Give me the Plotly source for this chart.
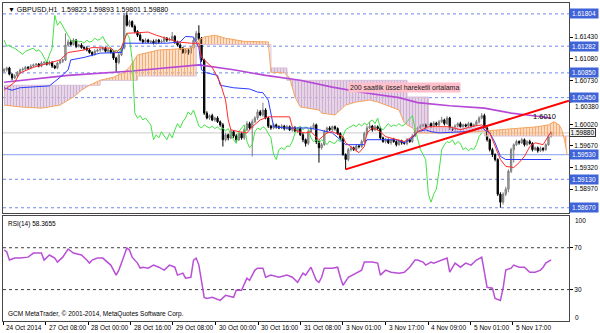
import plotly.graph_objects as go

# ---------------- data (hourly bars, GBPUSD H1) ----------------
close = [
1.6090,1.6093,1.6083,1.6077,1.6080,1.6086,1.6090,1.6091,1.6094,1.6093,
1.6096,1.6098,1.6099,1.6096,1.6101,1.6102,1.6099,1.6102,1.6096,1.6093,
1.6101,1.6104,1.6106,1.6130,1.6135,1.6131,1.6138,1.6128,1.6130,1.6126,
1.6125,1.6122,1.6118,1.6115,1.6120,1.6122,1.6123,1.6125,1.6120,1.6122,
1.6118,1.6109,1.6102,1.6114,1.6125,1.6178,1.6162,1.6168,1.6160,1.6152,
1.6146,1.6138,1.6135,1.6138,1.6135,1.6136,1.6133,1.6138,1.6135,1.6136,
1.6141,1.6138,1.6139,1.6144,1.6135,1.6130,1.6125,1.6118,1.6122,1.6117,
1.6125,1.6138,1.6149,1.6141,1.6106,1.6020,1.6012,1.6016,1.6009,1.6012,
1.6006,1.6001,1.5977,1.5985,1.5980,1.5990,1.5983,1.5977,1.5987,1.5980,
1.5993,1.6003,1.5996,1.6006,1.6012,1.6022,1.6017,1.6025,1.6012,1.5999,
1.5996,1.6001,1.5998,1.5996,1.5999,1.5995,1.5998,1.5993,1.5996,1.5991,
1.5995,1.5985,1.5977,1.5971,1.5990,1.5996,1.6001,1.5974,1.5964,1.5969,
1.5990,1.5996,1.5993,1.5998,1.5995,1.5987,1.5980,1.5953,1.5945,1.5961,
1.5964,1.5961,1.5967,1.5966,1.5974,1.5987,1.5996,1.5999,1.5993,1.5998,
1.5995,1.5980,1.5974,1.5977,1.5972,1.5977,1.5974,1.5969,1.5975,1.5972,
1.5971,1.5977,1.5974,1.5983,1.5993,1.5996,1.5999,1.6001,1.5998,1.6003,
1.5999,1.6004,1.6001,1.6006,1.6009,1.6003,1.6012,1.5996,1.5993,1.5999,
1.6003,1.5998,1.6001,1.5999,1.6003,1.5999,1.6001,1.6006,1.6012,1.6016,
1.5996,1.5977,1.5961,1.5953,1.5945,1.5889,1.5876,1.5889,1.5897,1.5926,
1.5961,1.5969,1.5974,1.5972,1.5977,1.5969,1.5974,1.5971,1.5961,1.5964,
1.5959,1.5963,1.5961,1.5969,1.59823,1.59880]
first_open = 1.6088
# wick lengths in pips above / below the candle body
upper_wick = [
3,2,2,1,3,2,2,3,2,2, 3,2,2,2,3,2,2,3,2,2, 2,3,2,19,4,3,3,2,2,3, 2,3,2,2,3,2,2,3,2,2,
2,2,2,3,3,4,5,3,2,3, 2,3,2,3,2,2,3,2,2,3, 3,2,3,7,2,2,3,2,3,2, 3,4,4,13,2,2,3,2,3,2,
3,2,3,3,2,4,2,3,3,2, 3,4,3,4,3,4,3,12,3,2, 2,3,2,2,3,2,3,2,2,3, 2,2,3,2,4,3,3,2,2,3,
3,2,3,2,2,2,2,2,2,3, 3,2,3,2,3,3,4,7,2,3, 2,3,2,3,2,2,3,2,2,2, 2,3,2,3,3,2,3,2,2,3,
2,3,2,3,5,2,3,2,2,3, 2,3,2,2,3,2,2,3,3,4, 3,2,2,3,2,2,3,3,4,3, 3,2,3,2,3,2,2,3,2,2,
2,3,2,2,3,1]
lower_wick = [
2,3,2,4,2,2,3,2,2,3, 2,2,3,2,2,3,2,2,3,2, 2,2,3,2,3,2,2,3,2,2, 3,2,2,3,2,2,3,2,2,3,
2,3,16,3,2,2,2,3,2,3, 3,2,3,2,2,3,2,2,3,2, 2,3,2,2,3,2,3,2,2,3, 2,2,2,3,3,3,2,3,2,3,
2,3,11,3,4,2,3,4,2,3, 3,2,3,46,2,3,2,3,2,3, 3,2,3,2,2,3,2,2,3,2, 3,2,4,5,3,2,2,4,24,3,
2,3,2,2,3,2,3,2,16,3, 3,2,3,3,2,2,3,2,3,2, 3,3,2,3,2,3,2,3,2,3, 2,3,2,2,2,3,2,2,3,2,
3,2,2,3,2,3,2,3,2,3, 2,2,3,2,2,3,2,2,3,2, 3,3,3,4,3,3,9,4,3,5, 3,21,2,3,2,3,2,2,3,2,
3,2,3,2,2,2]

tenkan_bars = [0,4,6,11,17,21,24,30,33,40,42,44,46,54,57,61,65,70,73,74,78,81,83,84,85,88,91,93,96,99,
               107,108,110,113,115,118,121,123,127,128,130,133,135,136,138,140,143,147,150,153,155,159,163,167,171,175,179,180,182,184,
               186,188,191,193,195,197,199,202,204,205]
tenkan_vals = [1.6057,1.6070,1.6085,1.6094,1.6101,1.6106,1.6118,1.6122,1.6126,1.6125,1.6118,1.6126,1.6149,1.6151,1.6146,1.6141,1.6135,1.6133,1.6133,1.6110,
               1.6094,1.6069,1.6041,1.6009,1.5993,1.5990,1.5988,1.5998,1.6009,1.6014,1.6014,1.5998,1.5990,1.5988,1.5990,1.5977,1.5988,1.5990,1.5982,1.5972,
               1.5966,1.5956,1.5966,1.5988,1.5996,1.5993,1.5982,1.5977,1.5974,1.5982,1.5990,1.5998,1.5998,1.5998,1.5993,1.5998,1.6001,1.5998,1.5988,1.5966,
               1.5945,1.5934,1.5932,1.5940,1.5950,1.5966,1.5972,1.5969,1.5982,1.5990]

kijun_bars = [0,3,6,11,17,21,24,25,30,36,41,44,45,48,61,66,68,71,73,74,76,80,81,86,92,95,97,99,100,101,
              105,114,118,123,126,128,135,136,147,150,153,155,158,160,163,173,176,179,180,182,184,186,188,205]
kijun_vals = [1.6061,1.6057,1.6061,1.6062,1.6064,1.6078,1.6090,1.6106,1.6110,1.6117,1.6118,1.6118,1.6133,1.6133,1.6133,1.6135,1.6144,1.6143,1.6126,1.6090,
              1.6085,1.6081,1.6065,1.6061,1.6059,1.6054,1.6053,1.6041,1.6020,1.5998,1.5996,1.5996,1.5993,1.5988,1.5977,1.5969,1.5969,1.5977,1.5977,1.5972,
              1.5980,1.5990,1.5993,1.5990,1.5988,1.5990,1.5993,1.5998,1.5993,1.5988,1.5972,1.5950,1.5945,1.5945]

spanA_bars = [0,6,14,21,24,26,29,32,36,41,45,47,50,53,58,70,73,75,79,83,90,99,100,105,107,109,111,118,119,124,
              126,128,132,137,140,145,148,150,153,155,166,177,180,185,192,200,204,206,208,209,210,211]
spanA_vals = [1.6033,1.6030,1.6028,1.6033,1.6041,1.6046,1.6057,1.6065,1.6073,1.6078,1.6086,1.6094,1.6114,1.6117,1.6122,1.6125,1.6138,1.6143,1.6146,1.6141,
              1.6136,1.6135,1.6086,1.6085,1.6077,1.6046,1.6030,1.6025,1.6020,1.6017,1.6025,1.6033,1.6038,1.6041,1.6038,1.6030,1.6025,1.6004,1.5996,1.5988,
              1.5988,1.5990,1.5991,1.5993,1.5996,1.5998,1.6001,1.6006,1.6001,1.5993,1.5977,1.5953]
spanB_bars = [0,36,50,72,100,106,151,159,180,212]
spanB_vals = [1.6065,1.6073,1.6080,1.6131,1.6093,1.6073,1.6046,1.5996,1.5983,1.5983]
# stretches of the cloud, and which line is on top there
cloud_regions = [(0, 32, "bear"), (32, 99, "bull"), (100, 105, "bear"), (105, 150, "bear"),
                 (150, 155, "bear"), (155, 180, "bear"), (180, 211, "bull")]

ma_bars = [0,24,48,62,73,86,98,111,123,135,148,155,167,180,190,196,205]
ma_vals = [1.6070,1.6081,1.6088,1.6093,1.6098,1.6090,1.6081,1.6073,1.6062,1.6053,1.6045,1.6037,1.6032,1.6028,1.6020,1.6017,1.6012]

chikou_shift = 26

trend_bars = [128, 211.7]
trend_vals = [1.5929, 1.6040]

rsi_bars = [0,1,2,4,6,9,11,14,15,17,19,20,22,24,26,29,31,32,33,35,37,40,42,43,44,46,47,48,50,51,
            52,54,56,58,60,62,64,65,67,68,70,71,72,73,75,76,78,81,83,86,87,89,91,92,94,95,97,98,100,103,
            106,108,110,112,113,115,117,118,119,120,123,125,126,127,129,132,134,135,138,140,141,143,145,148,150,152,154,155,157,158,
            160,161,164,166,167,169,171,173,175,177,179,181,183,184,186,187,188,190,191,193,195,197,199,201,202,203,205]
rsi_vals = [67.8,66.2,58.2,60.1,60.1,61.0,64.9,64.9,58.2,63.0,60.0,56.3,61.0,68.8,64.9,63.0,58.2,55.3,58.2,60.1,
            60.1,53.4,43.8,48.6,55.3,69.7,67.8,61.0,55.3,50.5,51.4,50.5,53.4,51.4,48.6,53.4,51.4,43.8,45.7,40.9,
            41.8,58.2,60.1,53.4,22.6,21.6,22.6,19.7,24.5,22.6,29.3,29.3,40.9,38.9,48.6,50.5,50.5,41.8,43.8,41.8,
            43.8,41.8,37.0,45.7,43.8,51.4,38.9,37.0,41.8,50.5,50.5,51.4,41.8,34.1,41.8,45.7,48.6,56.3,56.3,55.3,
            43.8,48.6,46.6,45.7,46.6,51.4,58.2,58.2,56.3,53.4,56.3,55.3,58.2,60.1,46.6,55.3,51.4,55.3,53.4,58.2,
            61.0,32.2,31.3,21.6,19.7,31.3,48.6,50.5,53.4,51.4,51.4,46.6,46.6,48.6,51.4,55.3,58.4]
rsi_levels = [70, 30]

tick_bars = [-0.4, 15.6, 31.5, 47.4, 63.3, 79.3, 95.2, 111.1, 127.0, 143.0, 158.9, 174.8, 190.7]
tick_text = ["24 Oct 2014", "27 Oct 08:00", "28 Oct 00:00", "28 Oct 16:00", "29 Oct 08:00", "30 Oct 00:00",
             "30 Oct 16:00", "31 Oct 08:00", "3 Nov 01:00", "3 Nov 17:00", "4 Nov 09:00", "5 Nov 01:00", "5 Nov 17:00"]
price_ticks = [1.61430, 1.61080, 1.60730, 1.60020, 1.59670, 1.59320, 1.58970]
hidden_tick = 1.60380   # scale label partly covered by the 1.60450 line label
dotted_levels = [1.61804, 1.61282, 1.60850, 1.60450, 1.59130, 1.58670]
support_level = 1.59530
bid_level = 1.59880
ma_label_bar, ma_label_price = 150, 1.6061
ma_label_text = "200 saatlik üssel hareketli ortalama"
note_bar, note_price, note_text = 202.5, 1.6014, "1.6010"
title_text = "▼ GBPUSD,H1  1.59823 1.59893 1.59801 1.59880"
rsi_title = "RSI(14) 58.3655"
copyright_text = "GCM MetaTrader, © 2001-2014, MetaQuotes Software Corp."

# ---------------- build ----------------
n = len(close)
bars = list(range(n))
opens = [first_open] + close[:-1]
highs = [max(o, c) + u * 0.0001 for o, c, u in zip(opens, close, upper_wick)]
lows = [min(o, c) - l * 0.0001 for o, c, l in zip(opens, close, lower_wick)]

FONT = "Liberation Sans, Arial, sans-serif"
fig = go.Figure()
shapes = []


def b_at(b):
    v = spanB_vals[0]
    for bb, vv in zip(spanB_bars, spanB_vals):
        if bb <= b:
            v = vv
    return v


def b_before(b):
    v = spanB_vals[0]
    for bb, vv in zip(spanB_bars, spanB_vals):
        if bb < b:
            v = vv
    return v


shape_fill = {"bull": "rgba(247,188,140,0.30)", "bear": "rgba(220,196,222,0.55)"}
hatch = {"bull": "#f5ad75", "bear": "#d0b0d2"}
for k, (b0, b1, kind) in enumerate(cloud_regions):
    ax = [b for b in spanA_bars if b0 <= b <= b1]
    ay = [v for b, v in zip(spanA_bars, spanA_vals) if b0 <= b <= b1]
    px, py = [b0], [b_at(b0)]
    for s in spanB_bars:
        if b0 < s < b1:
            px += [s, s]
            py += [b_before(s), b_at(s)]
    px.append(b1)
    py.append(b_before(b1) if b1 in spanB_bars else b_at(b1))
    poly_x = ax + px[::-1]
    poly_y = ay + py[::-1]
    # pale tint of the cloud drawn as a path shape under the traces
    path = "M " + " L ".join(f"{xx},{yy}" for xx, yy in zip(poly_x, poly_y)) + " Z"
    shapes.append(dict(type="path", path=path, xref="x", yref="y", fillcolor=shape_fill[kind],
                       line=dict(width=0), layer="below"))
    # vertical hatching on top
    fig.add_trace(go.Scatter(x=poly_x + [ax[0]], y=poly_y + [ay[0]], mode="lines", line=dict(width=0), fill="toself",
                             fillcolor="rgba(0,0,0,0)",
                             fillpattern=dict(shape="|", fgcolor=hatch[kind], bgcolor="rgba(255,255,255,0)",
                                              size=3, solidity=0.45 + 0.01 * k, fillmode="replace"),
                             showlegend=False, hoverinfo="skip"))

fig.add_trace(go.Scatter(x=spanB_bars, y=spanB_vals, mode="lines", line=dict(color="#d8bfd8", width=1, shape="hv"),
                         showlegend=False))
fig.add_trace(go.Scatter(x=spanA_bars, y=spanA_vals, mode="lines", line=dict(color="#f4a460", width=1),
                         showlegend=False))

fig.add_trace(go.Candlestick(x=bars, open=opens, high=highs, low=lows, close=close,
                             increasing=dict(line=dict(color="#7c7c7c", width=1), fillcolor="#b0b0b0"),
                             decreasing=dict(line=dict(color="#000000", width=1), fillcolor="#000000"),
                             whiskerwidth=0, showlegend=False))

fig.add_trace(go.Scatter(x=ma_bars, y=ma_vals, mode="lines", line=dict(color="#b548d6", width=1.6), showlegend=False))
fig.add_trace(go.Scatter(x=bars[:n - chikou_shift], y=close[chikou_shift:], mode="lines",
                         line=dict(color="#45e045", width=1), showlegend=False))
fig.add_trace(go.Scatter(x=kijun_bars, y=kijun_vals, mode="lines", line=dict(color="#2a3cff", width=1), showlegend=False))
fig.add_trace(go.Scatter(x=tenkan_bars, y=tenkan_vals, mode="lines", line=dict(color="#ff2a2a", width=1), showlegend=False))
fig.add_trace(go.Scatter(x=trend_bars, y=trend_vals, mode="lines", line=dict(color="#ff0000", width=2), showlegend=False))

fig.add_trace(go.Scatter(x=rsi_bars, y=rsi_vals, mode="lines", line=dict(color="#b94fd6", width=1.5),
                         xaxis="x2", yaxis="y2", showlegend=False))

for lv in dotted_levels:
    shapes.append(dict(type="line", xref="paper", x0=0, x1=1, yref="y", y0=lv, y1=lv,
                       line=dict(color="#7088e6", width=1, dash="dot"), layer="below"))
shapes.append(dict(type="line", xref="paper", x0=0, x1=1, yref="y", y0=support_level, y1=support_level,
                   line=dict(color="#9db2f3", width=1.2), layer="below"))
shapes.append(dict(type="line", xref="paper", x0=0, x1=1, yref="y", y0=bid_level, y1=bid_level,
                   line=dict(color="#c8c8c8", width=1), layer="below"))
for lv in rsi_levels:
    shapes.append(dict(type="line", xref="paper", x0=0, x1=1, yref="y2", y0=lv, y1=lv,
                       line=dict(color="#404040", width=1, dash="dot"), layer="below"))
shapes.append(dict(type="line", xref="paper", x0=1, x1=1.005, yref="y", y0=hidden_tick, y1=hidden_tick,
                   line=dict(color="#000000", width=1)))

ann = []
small = dict(family=FONT, size=6.5, color="#000000")
ann.append(dict(x=1, xref="paper", xanchor="left", y=hidden_tick, yref="y", yanchor="top", text=f"{hidden_tick:.5f}",
                showarrow=False, font=small, xshift=4, yshift=1))
for lv in dotted_levels + [support_level]:
    ann.append(dict(x=1, xref="paper", xanchor="left", y=lv, yref="y", text=f"{lv:.5f}", showarrow=False,
                    bgcolor="#3f64d8", font=dict(family=FONT, size=6.5, color="white"), borderpad=1, width=26))
ann.append(dict(x=1, xref="paper", xanchor="left", y=bid_level, yref="y", text=f"{bid_level:.5f}", showarrow=False,
                bgcolor="#f0f0f0", bordercolor="#333333", borderwidth=1, font=small, borderpad=0, width=25))
for b, t in zip(tick_bars, tick_text):
    ann.append(dict(x=b, xref="x2", y=0, yref="paper", yanchor="top", xanchor="left", text=t, showarrow=False,
                    font=small, xshift=1, yshift=-1))
ann.append(dict(x=0, xref="paper", xanchor="left", y=1, yref="paper", yanchor="top", text=title_text,
                showarrow=False, font=dict(family=FONT, size=7, color="#000000"), xshift=3, yshift=-1))
ann.append(dict(x=ma_label_bar, xref="x", y=ma_label_price, yref="y", text=ma_label_text, showarrow=False,
                bgcolor="#ffc0cb", font=dict(family=FONT, size=7, color="#222222"), borderpad=1))
ann.append(dict(x=note_bar, xref="x", y=note_price, yref="y", text=note_text, showarrow=False,
                font=dict(family=FONT, size=7.5, color="#000000")))
ann.append(dict(x=0, xref="paper", xanchor="left", y=100, yref="y2", yanchor="top", text=rsi_title,
                showarrow=False, font=small, xshift=3, yshift=-2))
ann.append(dict(x=0, xref="paper", xanchor="left", y=0, yref="y2", yanchor="bottom", text=copyright_text,
                showarrow=False, font=small, xshift=3, yshift=1))
ann.append(dict(x=1, xref="paper", xanchor="left", y=100, yref="y2", text="100", showarrow=False,
                font=small, xshift=4, yshift=-4))
ann.append(dict(x=1, xref="paper", xanchor="left", y=0, yref="y2", text="0", showarrow=False,
                font=small, xshift=4, yshift=4))

axis_line = dict(showline=True, mirror=True, linecolor="#474747", linewidth=1, showgrid=False, zeroline=False)
xr = [-0.4, 211.7]
fig.update_layout(
    width=600, height=333, margin=dict(l=2, r=28, t=2, b=12),
    paper_bgcolor="white", plot_bgcolor="white", showlegend=False, hovermode=False,
    font=dict(family=FONT, size=6.5, color="#000000"),
    xaxis=dict(domain=[0, 1], anchor="y", range=xr, showticklabels=False, ticks="",
               rangeslider=dict(visible=False), **axis_line),
    yaxis=dict(domain=[0.3386, 1], anchor="x", side="right", range=[1.5858, 1.6198],
               tickvals=price_ticks, ticktext=[f"{v:.5f}" for v in price_ticks],
               ticks="outside", ticklen=3, tickcolor="#000000", tickfont=small, **axis_line),
    xaxis2=dict(domain=[0, 1], anchor="y2", range=xr, matches="x", showticklabels=False,
                tickvals=tick_bars, ticks="outside", ticklen=3, tickcolor="#000000", **axis_line),
    yaxis2=dict(domain=[0, 0.3292], anchor="x2", side="right", range=[0, 100],
                tickvals=[70, 30], ticktext=["70", "30"], ticks="outside", ticklen=3, tickcolor="#000000",
                tickfont=small, **axis_line),
    shapes=shapes, annotations=ann,
)

fig.write_html("out.html")
